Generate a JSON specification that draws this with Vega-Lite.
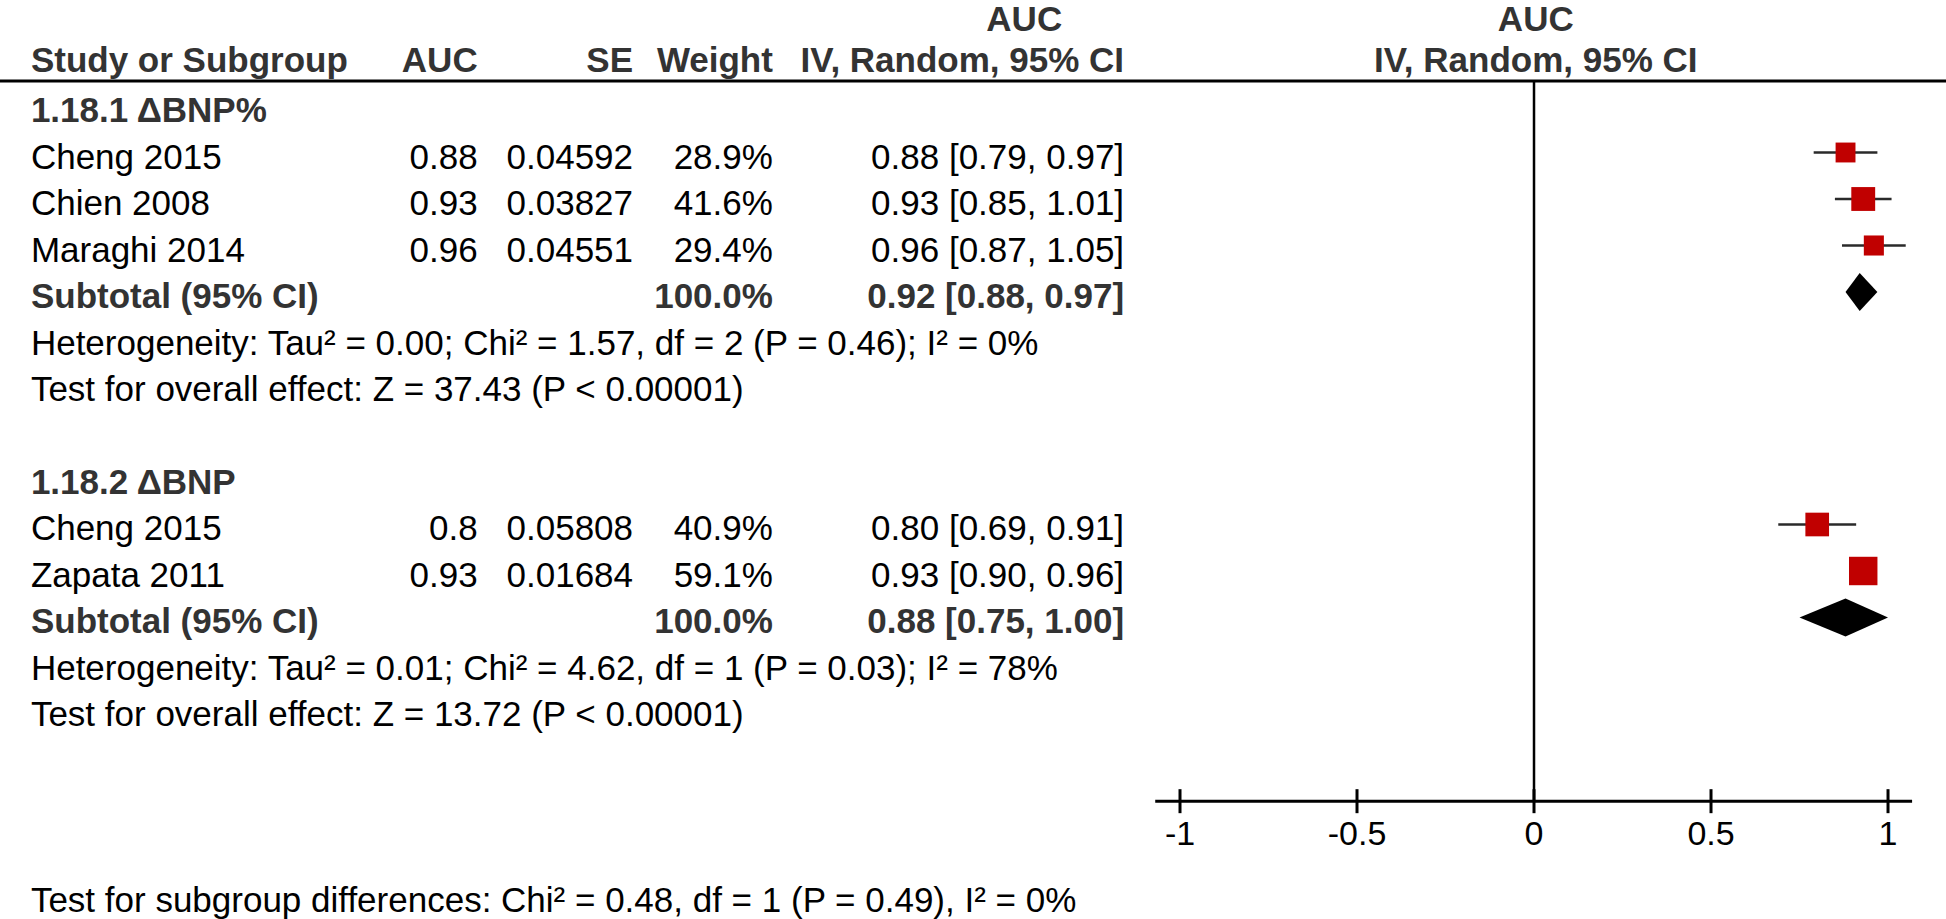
{
  "$schema": "https://vega.github.io/schema/vega-lite/v6.json",
  "width": 1946,
  "height": 919,
  "autosize": {"type": "none"},
  "padding": 0,
  "background": "white",
  "config": {"view": {"stroke": null}, "text": {"font": "Liberation Sans", "fontSize": 35}},
  "datasets": {
    "rows": [
      {"line": -1, "kind": "header", "study": "Study or Subgroup", "auc": "AUC", "se": "SE", "weight": "Weight", "ci": "IV, Random, 95% CI"},
      {"line": 0, "kind": "group", "study": "1.18.1 ΔBNP%"},
      {"line": 1, "kind": "study", "study": "Cheng 2015", "auc": "0.88", "se": "0.04592", "weight": "28.9%", "ci": "0.88 [0.79, 0.97]", "est": 0.88, "lo": 0.79, "hi": 0.97, "w": 28.9},
      {"line": 2, "kind": "study", "study": "Chien 2008", "auc": "0.93", "se": "0.03827", "weight": "41.6%", "ci": "0.93 [0.85, 1.01]", "est": 0.93, "lo": 0.85, "hi": 1.01, "w": 41.6},
      {"line": 3, "kind": "study", "study": "Maraghi 2014", "auc": "0.96", "se": "0.04551", "weight": "29.4%", "ci": "0.96 [0.87, 1.05]", "est": 0.96, "lo": 0.87, "hi": 1.05, "w": 29.4},
      {"line": 4, "kind": "subtotal", "study": "Subtotal (95% CI)", "weight": "100.0%", "ci": "0.92 [0.88, 0.97]", "est": 0.92, "lo": 0.88, "hi": 0.97},
      {"line": 5, "kind": "note", "study": "Heterogeneity: Tau² = 0.00; Chi² = 1.57, df = 2 (P = 0.46); I² = 0%"},
      {"line": 6, "kind": "note", "study": "Test for overall effect: Z = 37.43 (P < 0.00001)"},
      {"line": 8, "kind": "group", "study": "1.18.2 ΔBNP"},
      {"line": 9, "kind": "study", "study": "Cheng 2015", "auc": "0.8", "se": "0.05808", "weight": "40.9%", "ci": "0.80 [0.69, 0.91]", "est": 0.80, "lo": 0.69, "hi": 0.91, "w": 40.9},
      {"line": 10, "kind": "study", "study": "Zapata 2011", "auc": "0.93", "se": "0.01684", "weight": "59.1%", "ci": "0.93 [0.90, 0.96]", "est": 0.93, "lo": 0.90, "hi": 0.96, "w": 59.1},
      {"line": 11, "kind": "subtotal", "study": "Subtotal (95% CI)", "weight": "100.0%", "ci": "0.88 [0.75, 1.00]", "est": 0.88, "lo": 0.75, "hi": 1.00},
      {"line": 12, "kind": "note", "study": "Heterogeneity: Tau² = 0.01; Chi² = 4.62, df = 1 (P = 0.03); I² = 78%"},
      {"line": 13, "kind": "note", "study": "Test for overall effect: Z = 13.72 (P < 0.00001)"},
      {"line": 17, "kind": "note", "study": "Test for subgroup differences: Chi² = 0.48, df = 1 (P = 0.49), I² = 0%"}
    ],
    "ticks": [
      {"v": -1, "label": "-1"},
      {"v": -0.5, "label": "-0.5"},
      {"v": 0, "label": "0"},
      {"v": 0.5, "label": "0.5"},
      {"v": 1, "label": "1"}
    ],
    "plothead": [
      {"line": -2, "label": "AUC"},
      {"line": -1, "label": "IV, Random, 95% CI"}
    ]
  },
  "layer": [
    {
      "data": {"values": [{}]},
      "mark": {"type": "rule", "strokeWidth": 3, "color": "#000000"},
      "encoding": {
        "y": {"datum": -0.538, "type": "quantitative", "scale": {"domain": [-2.2796, 17.4839], "reverse": true, "nice": false, "zero": false}, "axis": null}
      }
    },
    {
      "data": {"values": [{}]},
      "mark": {"type": "rule", "strokeWidth": 2.5, "color": "#000000"},
      "encoding": {
        "x": {"datum": 0, "type": "quantitative", "scale": {"domain": [-4.3333, 1.1638], "nice": false, "zero": false}, "axis": null},
        "y": {"datum": -0.538, "type": "quantitative", "scale": {"domain": [-2.2796, 17.4839], "reverse": true, "nice": false, "zero": false}, "axis": null},
        "y2": {"datum": 14.95}
      }
    },
    {
      "data": {"values": [{}]},
      "mark": {"type": "rule", "strokeWidth": 3, "color": "#000000"},
      "encoding": {
        "x": {"datum": -1.07, "type": "quantitative", "scale": {"domain": [-4.3333, 1.1638], "nice": false, "zero": false}, "axis": null},
        "x2": {"datum": 1.068},
        "y": {"datum": 14.95, "type": "quantitative", "scale": {"domain": [-2.2796, 17.4839], "reverse": true, "nice": false, "zero": false}, "axis": null}
      }
    },
    {
      "data": {"name": "ticks"},
      "mark": {"type": "point", "shape": "M0,-1L0,1", "size": 576, "filled": false, "strokeWidth": 3, "color": "#000000", "opacity": 1},
      "encoding": {
        "x": {"field": "v", "type": "quantitative", "scale": {"domain": [-4.3333, 1.1638], "nice": false, "zero": false}, "axis": null},
        "y": {"datum": 14.95, "type": "quantitative", "scale": {"domain": [-2.2796, 17.4839], "reverse": true, "nice": false, "zero": false}, "axis": null}
      }
    },
    {
      "data": {"name": "ticks"},
      "mark": {"type": "text", "align": "center", "baseline": "alphabetic", "dy": 44, "fontSize": 34, "font": "Liberation Sans", "color": "#000000"},
      "encoding": {
        "x": {"field": "v", "type": "quantitative", "scale": {"domain": [-4.3333, 1.1638], "nice": false, "zero": false}, "axis": null},
        "y": {"datum": 14.95, "type": "quantitative", "scale": {"domain": [-2.2796, 17.4839], "reverse": true, "nice": false, "zero": false}, "axis": null},
        "text": {"field": "label", "type": "nominal"}
      }
    },
    {
      "data": {"name": "rows"},
      "transform": [{"filter": "datum.kind === 'study'"}],
      "mark": {"type": "rule", "strokeWidth": 2.7, "color": "#2a2a2a"},
      "encoding": {
        "x": {"field": "lo", "type": "quantitative", "scale": {"domain": [-4.3333, 1.1638], "nice": false, "zero": false}, "axis": null},
        "x2": {"field": "hi"},
        "y": {"field": "line", "type": "quantitative", "scale": {"domain": [-2.2796, 17.4839], "reverse": true, "nice": false, "zero": false}, "axis": null}
      }
    },
    {
      "data": {"name": "rows"},
      "transform": [{"filter": "datum.kind === 'study'"}],
      "mark": {"type": "point", "shape": "square", "filled": true, "color": "#C00000", "opacity": 1},
      "encoding": {
        "x": {"field": "est", "type": "quantitative", "scale": {"domain": [-4.3333, 1.1638], "nice": false, "zero": false}, "axis": null},
        "y": {"field": "line", "type": "quantitative", "scale": {"domain": [-2.2796, 17.4839], "reverse": true, "nice": false, "zero": false}, "axis": null},
        "size": {"field": "w", "type": "quantitative", "scale": {"type": "linear", "domain": [0, 100], "range": [0, 1369]}, "legend": null}
      }
    },
    {
      "data": {"name": "rows"},
      "transform": [{"filter": "datum.kind === 'subtotal'"}],
      "mark": {
        "type": "point",
        "filled": true,
        "color": "#000000",
        "opacity": 1,
        "size": 1444,
        "shape": {"expr": "'M' + ((scale('x', datum.lo) - scale('x', datum.est)) / 19) + ',0L0,-1L' + ((scale('x', datum.hi) - scale('x', datum.est)) / 19) + ',0L0,1Z'"}
      },
      "encoding": {
        "x": {"field": "est", "type": "quantitative", "scale": {"domain": [-4.3333, 1.1638], "nice": false, "zero": false}, "axis": null},
        "y": {"field": "line", "type": "quantitative", "scale": {"domain": [-2.2796, 17.4839], "reverse": true, "nice": false, "zero": false}, "axis": null}
      }
    },
    {
      "data": {"name": "rows"},
      "mark": {"type": "text", "align": "left", "baseline": "alphabetic", "fontSize": 35, "font": "Liberation Sans",
        "dy": {"expr": "datum.line === -1 ? 12 : 16"},
        "fontWeight": {"expr": "(datum.kind === 'study' || datum.kind === 'note') ? 'normal' : 'bold'"},
        "color": {"expr": "(datum.kind === 'study' || datum.kind === 'note') ? '#000000' : '#333333'"}},
      "encoding": {
        "x": {"datum": -4.246, "type": "quantitative", "scale": {"domain": [-4.3333, 1.1638], "nice": false, "zero": false}, "axis": null},
        "y": {"field": "line", "type": "quantitative", "scale": {"domain": [-2.2796, 17.4839], "reverse": true, "nice": false, "zero": false}, "axis": null},
        "text": {"field": "study", "type": "nominal"}
      }
    },
    {
      "data": {"name": "rows"},
      "transform": [{"filter": "isValid(datum.auc)"}],
      "mark": {"type": "text", "align": "right", "baseline": "alphabetic", "fontSize": 35, "font": "Liberation Sans",
        "dy": {"expr": "datum.line === -1 ? 12 : 16"},
        "fontWeight": {"expr": "datum.kind === 'study' ? 'normal' : 'bold'"},
        "color": {"expr": "datum.kind === 'study' ? '#000000' : '#333333'"}},
      "encoding": {
        "x": {"datum": -2.984, "type": "quantitative", "scale": {"domain": [-4.3333, 1.1638], "nice": false, "zero": false}, "axis": null},
        "y": {"field": "line", "type": "quantitative", "scale": {"domain": [-2.2796, 17.4839], "reverse": true, "nice": false, "zero": false}, "axis": null},
        "text": {"field": "auc", "type": "nominal"}
      }
    },
    {
      "data": {"name": "rows"},
      "transform": [{"filter": "isValid(datum.se)"}],
      "mark": {"type": "text", "align": "right", "baseline": "alphabetic", "fontSize": 35, "font": "Liberation Sans",
        "dy": {"expr": "datum.line === -1 ? 12 : 16"},
        "fontWeight": {"expr": "datum.kind === 'study' ? 'normal' : 'bold'"},
        "color": {"expr": "datum.kind === 'study' ? '#000000' : '#333333'"}},
      "encoding": {
        "x": {"datum": -2.545, "type": "quantitative", "scale": {"domain": [-4.3333, 1.1638], "nice": false, "zero": false}, "axis": null},
        "y": {"field": "line", "type": "quantitative", "scale": {"domain": [-2.2796, 17.4839], "reverse": true, "nice": false, "zero": false}, "axis": null},
        "text": {"field": "se", "type": "nominal"}
      }
    },
    {
      "data": {"name": "rows"},
      "transform": [{"filter": "isValid(datum.weight)"}],
      "mark": {"type": "text", "align": "right", "baseline": "alphabetic", "fontSize": 35, "font": "Liberation Sans",
        "dy": {"expr": "datum.line === -1 ? 12 : 16"},
        "fontWeight": {"expr": "datum.kind === 'study' ? 'normal' : 'bold'"},
        "color": {"expr": "datum.kind === 'study' ? '#000000' : '#333333'"}},
      "encoding": {
        "x": {"datum": -2.15, "type": "quantitative", "scale": {"domain": [-4.3333, 1.1638], "nice": false, "zero": false}, "axis": null},
        "y": {"field": "line", "type": "quantitative", "scale": {"domain": [-2.2796, 17.4839], "reverse": true, "nice": false, "zero": false}, "axis": null},
        "text": {"field": "weight", "type": "nominal"}
      }
    },
    {
      "data": {"name": "rows"},
      "transform": [{"filter": "isValid(datum.ci)"}],
      "mark": {"type": "text", "align": "right", "baseline": "alphabetic", "fontSize": 35, "font": "Liberation Sans",
        "dy": {"expr": "datum.line === -1 ? 12 : 16"},
        "fontWeight": {"expr": "datum.kind === 'study' ? 'normal' : 'bold'"},
        "color": {"expr": "datum.kind === 'study' ? '#000000' : '#333333'"}},
      "encoding": {
        "x": {"datum": -1.158, "type": "quantitative", "scale": {"domain": [-4.3333, 1.1638], "nice": false, "zero": false}, "axis": null},
        "y": {"field": "line", "type": "quantitative", "scale": {"domain": [-2.2796, 17.4839], "reverse": true, "nice": false, "zero": false}, "axis": null},
        "text": {"field": "ci", "type": "nominal"}
      }
    },
    {
      "data": {"name": "plothead"},
      "transform": [{"filter": "datum.line === -2"}],
      "mark": {"type": "text", "align": "center", "baseline": "alphabetic", "dy": 18, "fontSize": 35, "font": "Liberation Sans", "fontWeight": "bold", "color": "#333333"},
      "encoding": {
        "x": {"datum": -1.44, "type": "quantitative", "scale": {"domain": [-4.3333, 1.1638], "nice": false, "zero": false}, "axis": null},
        "y": {"field": "line", "type": "quantitative", "scale": {"domain": [-2.2796, 17.4839], "reverse": true, "nice": false, "zero": false}, "axis": null},
        "text": {"field": "label", "type": "nominal"}
      }
    },
    {
      "data": {"name": "plothead"},
      "mark": {"type": "text", "align": "center", "baseline": "alphabetic", "fontSize": 35, "font": "Liberation Sans", "fontWeight": "bold", "color": "#333333",
        "dy": {"expr": "datum.line === -1 ? 12 : 18"}},
      "encoding": {
        "x": {"datum": 0.005, "type": "quantitative", "scale": {"domain": [-4.3333, 1.1638], "nice": false, "zero": false}, "axis": null},
        "y": {"field": "line", "type": "quantitative", "scale": {"domain": [-2.2796, 17.4839], "reverse": true, "nice": false, "zero": false}, "axis": null},
        "text": {"field": "label", "type": "nominal"}
      }
    }
  ]
}
